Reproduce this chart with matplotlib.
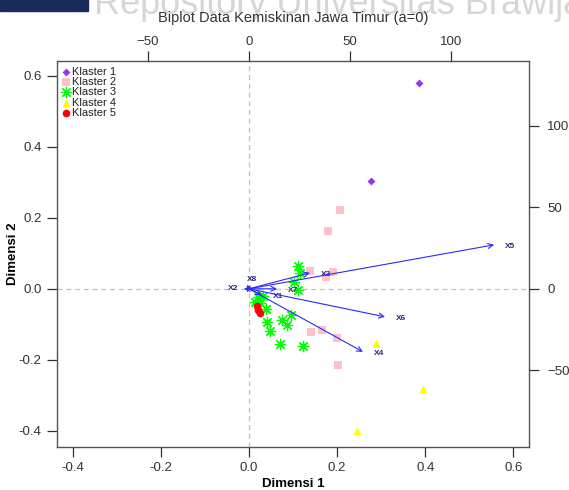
import numpy as np
import matplotlib
matplotlib.use("Agg")
import matplotlib.pyplot as plt
from matplotlib.patches import Rectangle

plt.rcParams['font.family'] = ['Liberation Sans', 'DejaVu Sans']

# object scores (Dimensi 1, Dimensi 2) per cluster
k1_x = [0.386, 0.277]
k1_y = [0.580, 0.304]
k2_x = [0.207, 0.180, 0.139, 0.175, 0.191, 0.141, 0.166, 0.200, 0.202]
k2_y = [0.222, 0.163, 0.051, 0.034, 0.048, -0.121, -0.115, -0.138, -0.214]
k3_x = [0.111, 0.116, 0.102, 0.111, 0.020, 0.014, 0.025, 0.032, 0.039,
        0.041, 0.048, 0.075, 0.086, 0.095, 0.070, 0.123]
k3_y = [0.065, 0.045, 0.020, -0.003, -0.023, -0.037, -0.039, -0.020, -0.056,
        -0.093, -0.118, -0.087, -0.101, -0.073, -0.155, -0.161]
k4_x = [0.289, 0.395, 0.246]
k4_y = [-0.152, -0.282, -0.400]
k5_x = [0.018, 0.020, 0.025]
k5_y = [-0.048, -0.059, -0.068]

# variable loadings on the secondary (top/right) scale
var_names = ['X1', 'X2', 'X3', 'X4', 'X5', 'X6', 'X7', 'X8']
load_x = [6.4, -2.5, 30.2, 56.4, 121.3, 67.3, 13.9, -1.0]
load_y = [-3.7, 0.0, 9.8, -38.7, 27.0, -17.2, 0.0, 2.5]

xlim = (-0.436, 0.636)
ylim = (-0.445, 0.642)
ratio = 218.0

fig = plt.figure(figsize=(5.69, 4.90), dpi=100)

# repository watermark strip along the top edge
fig.patches.append(Rectangle((0, 0.978), 0.155, 0.03, transform=fig.transFigure,
                             color='#1c2a5a', zorder=0))
fig.text(0.166, 0.972, 'Repository Universitas Brawijaya', fontsize=26,
         color='#d6d6d6', ha='left', va='baseline', zorder=0)

ax = fig.add_axes([0.100, 0.088, 0.830, 0.788])
ax.set_xlim(*xlim)
ax.set_ylim(*ylim)
ax.axhline(0, color='#c0c0c0', ls=(0, (4, 3)), lw=0.9, zorder=1)
ax.axvline(0, color='#c0c0c0', ls=(0, (4, 3)), lw=0.9, zorder=1)

ax.scatter(k1_x, k1_y, marker='D', s=16, color='#9B30FF', lw=0, label='Klaster 1', zorder=3)
ax.scatter(k2_x, k2_y, marker='s', s=32, color='#FFC0CB', lw=0, label='Klaster 2', zorder=3)
ax.scatter(k3_x, k3_y, marker=(8, 2, 0), s=55, color='#00FF00', lw=0.9, label='Klaster 3', zorder=3)
ax.scatter(k4_x, k4_y, marker='^', s=36, color='#FFFF00', lw=0, label='Klaster 4', zorder=3)
ax.scatter(k5_x, k5_y, marker='o', s=30, color='#FF0000', lw=0, label='Klaster 5', zorder=4)

ticks = [-0.4, -0.2, 0.0, 0.2, 0.4, 0.6]
ax.set_xticks(ticks)
ax.set_yticks(ticks)
ax.set_xticklabels(['%.1f' % t for t in ticks])
ax.set_yticklabels(['%.1f' % t for t in ticks])
ax.tick_params(direction='out', length=7, width=0.9, labelsize=9.5,
               colors='#333333')
ax.tick_params(axis='x', pad=4)
ax.tick_params(axis='y', pad=4)
ax.set_xlabel('Dimensi 1', fontsize=9.5, fontweight='bold', labelpad=3)
ax.set_ylabel('Dimensi 2', fontsize=9.5, fontweight='bold', labelpad=0)
for s in ax.spines.values():
    s.set_color('#555555')
    s.set_linewidth(1.0)

leg = ax.legend(loc='upper left', frameon=False, fontsize=8, handlelength=0.6,
                handletextpad=0.25, labelspacing=0.02, borderaxespad=0.25,
                borderpad=0.3, scatterpoints=1)
for t in leg.get_texts():
    t.set_color('#222222')

# secondary axes for the variable arrows
ax2 = fig.add_axes(ax.get_position(), frameon=False)
ax2.set_xlim(xlim[0] * ratio, xlim[1] * ratio)
ax2.set_ylim(ylim[0] * ratio, ylim[1] * ratio)
ax2.xaxis.tick_top()
ax2.yaxis.tick_right()
ax2.set_xticks([-50, 0, 50, 100])
ax2.set_yticks([-50, 0, 50, 100])
ax2.tick_params(direction='out', length=7, width=0.9, labelsize=9.5,
                colors='#333333')
ax2.tick_params(axis='x', pad=2)
ax2.tick_params(axis='y', pad=6)
ax2.patch.set_visible(False)

label_offsets = {'X2': (-8, 0), 'X8': (4, 4)}
for name, lx, ly in zip(var_names, load_x, load_y):
    ax2.annotate('', xy=(lx, ly), xytext=(0, 0),
                 arrowprops=dict(arrowstyle='->', color='#2a2aff', lw=0.8,
                                 shrinkA=0, shrinkB=0, mutation_scale=9))
    off = label_offsets.get(name, (8, -1))
    ax2.annotate(name, xy=(lx, ly), xytext=off, textcoords='offset points',
                 fontsize=6, fontweight='bold', color='#2b2b7a',
                 ha='left' if name not in label_offsets else 'center', va='center')

fig.text(0.515, 0.963, 'Biplot Data Kemiskinan Jawa Timur (a=0)', fontsize=10.5,
         color='#333333', ha='center', va='center')

fig.savefig('out.png', dpi=100)
